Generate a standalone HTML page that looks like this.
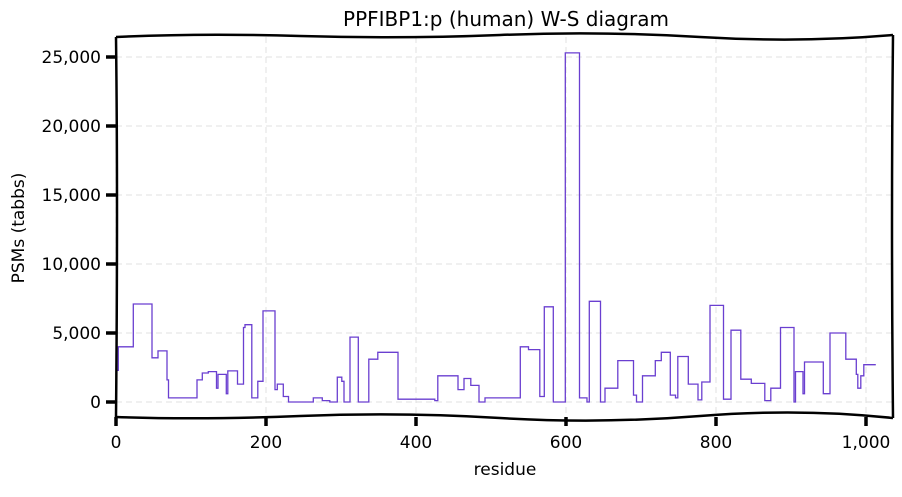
<!DOCTYPE html>
<html><head><meta charset="utf-8"><style>
body{margin:0;background:#fff;}
svg text{font-family:"Comic Sans MS","DejaVu Sans","Liberation Sans",sans-serif;fill:#000;}
</style></head><body>
<svg id="chart" width="902" height="492" viewBox="0 0 902 492" xmlns="http://www.w3.org/2000/svg">
<text x="506" y="26" font-size="20" text-anchor="middle">PPFIBP1:p (human) W-S diagram</text>
<g id="grid"></g>
<g id="ticks"></g>
<path id="series" fill="none" stroke="#6a3fd0" stroke-width="1.3"/>
<path d="M116,37 Q200,33 300,36 T500,35 T700,37 T893,35" fill="none" stroke="#000" stroke-width="2.5"/>
<path d="M116,417 Q200,420 300,416 T500,418 T700,416 T893,418" fill="none" stroke="#000" stroke-width="2.5"/>
<path d="M116,37 Q118,200 116,417" fill="none" stroke="#000" stroke-width="2.5"/>
<path d="M893,35 Q891,220 893,418" fill="none" stroke="#000" stroke-width="2.5"/>
<text x="505" y="475" font-size="17" text-anchor="middle">residue</text>
<text transform="translate(24,228) rotate(-90)" font-size="17" text-anchor="middle">PSMs (tabbs)</text>
</svg>
<script>
const starts=[0,3,23,48,56,68,70,108,115,123,134,136,147,149,162,170,172,181,189,196,212,215,223,230,263,275,285,295,301,304,312,323,337,349,376,425,429,456,464,473,484,492,521,539,550,565,571,583,599,618,628,631,646,652,669,690,694,702,719,727,739,746,749,763,776,781,792,810,820,833,847,865,873,886,904,906,916,918,943,952,973,987,989,993,997];
const values=[2300,4000,7100,3200,3700,1600,300,1600,2100,2200,1000,2000,600,2250,1300,5400,5600,300,1500,6600,900,1300,400,0,300,100,0,1800,1500,0,4700,0,3100,3600,200,100,1900,900,1700,1200,0,300,300,4000,3800,400,6900,0,25300,300,0,7300,0,1000,3000,500,0,1900,3000,3600,500,300,3300,1300,150,1450,7000,200,5200,1650,1350,100,1000,5400,0,2200,600,2900,600,5000,3100,2000,1000,1900,2700];
const endX=1013;
const xTicks=[0,200,400,600,800,1000];
const xTickLabels=["0","200","400","600","800","1,000"];
const yTicks=[0,5000,10000,15000,20000,25000];
const yTickLabels=["0","5,000","10,000","15,000","20,000","25,000"];
const xs=v=>116+v*0.75;
const ys=v=>402-v*0.0138;
const NS="http://www.w3.org/2000/svg";
const grid=document.getElementById('grid'),tk=document.getElementById('ticks');
xTicks.forEach((t,i)=>{
 const x=xs(t);
 const l=document.createElementNS(NS,'line');
 
 
 l.setAttribute('x1',x);l.setAttribute('x2',x);l.setAttribute('y1',37);l.setAttribute('y2',417);
 l.setAttribute('stroke','#e0e0e0');l.setAttribute('stroke-dasharray','6,4');grid.appendChild(l);
 const m=document.createElementNS(NS,'line');
 
 
 m.setAttribute('x1',x);m.setAttribute('x2',x);m.setAttribute('y1',417);m.setAttribute('y2',426);
 m.setAttribute('stroke','#000');m.setAttribute('stroke-width','3.5');tk.appendChild(m);
 const t2=document.createElementNS(NS,'text');
 
 
 t2.setAttribute('x',x);t2.setAttribute('y',448);t2.setAttribute('font-size','17');t2.setAttribute('text-anchor','middle');
 t2.textContent=xTickLabels[i];tk.appendChild(t2);
});
yTicks.forEach((t,i)=>{
 const y=ys(t);
 const l=document.createElementNS(NS,'line');
 
 
 l.setAttribute('x1',116);l.setAttribute('x2',893);l.setAttribute('y1',y);l.setAttribute('y2',y);
 l.setAttribute('stroke','#e0e0e0');l.setAttribute('stroke-dasharray','6,4');grid.appendChild(l);
 const m=document.createElementNS(NS,'line');
 
 
 m.setAttribute('x1',106);m.setAttribute('x2',116);m.setAttribute('y1',y);m.setAttribute('y2',y);
 m.setAttribute('stroke','#000');m.setAttribute('stroke-width','3.5');tk.appendChild(m);
 const t2=document.createElementNS(NS,'text');
 
 
 t2.setAttribute('x',101);t2.setAttribute('y',y+6);t2.setAttribute('font-size','17');t2.setAttribute('text-anchor','end');
 t2.textContent=yTickLabels[i];tk.appendChild(t2);
});
let d='';
for(let i=0;i<starts.length;i++){
 const x0=xs(starts[i]),x1=xs(i+1<starts.length?starts[i+1]:endX),y=ys(values[i]);
 d+=(i===0?'M':'L')+x0.toFixed(1)+','+y.toFixed(1)+' L'+x1.toFixed(1)+','+y.toFixed(1)+' ';
}
document.getElementById('series').setAttribute('d',d);
</script>
</body></html>
